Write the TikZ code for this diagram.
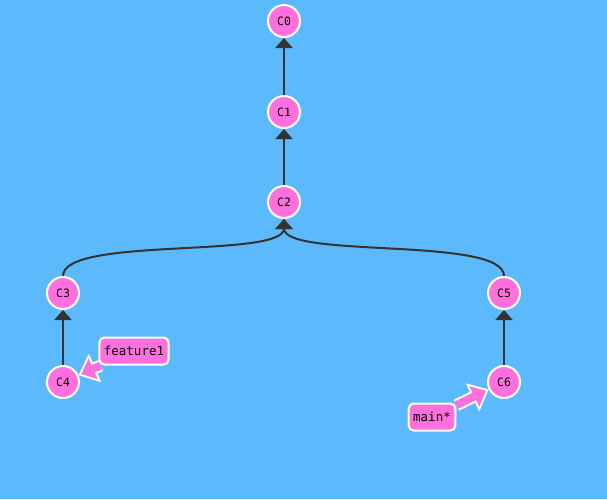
\documentclass[tikz,border=0pt]{standalone}
\usepackage{fontspec}
\setmonofont{DejaVu Sans Mono}
\usetikzlibrary{arrows.meta, backgrounds}
\definecolor{sky}{RGB}{92,185,252}
\definecolor{blush}{RGB}{255,112,222}
\definecolor{ink}{RGB}{51,51,51}

\begin{document}
\begin{tikzpicture}[x=1pt, y=-1pt,
  commit/.style={circle, draw=white, line width=2pt, fill=blush, minimum size=32pt, inner sep=0pt, font=\ttfamily\fontsize{11.5}{13}\selectfont},
  edge/.style={draw=ink, line width=2pt, -{Triangle[length=10pt, width=17pt]}},
  ref/.style={draw=white, line width=2pt, fill=blush, rounded corners=5pt, inner xsep=4.5pt, minimum height=27pt, font=\ttfamily\fontsize{12.5}{14}\selectfont},
  ptrrim/.style={white, line width=12pt, -{Triangle[length=18pt, width=30pt]}},
  ptr/.style={blush, line width=8pt, shorten >=3pt, -{Triangle[length=13pt, width=22pt]}}]
\useasboundingbox (0,0) rectangle (607,499);
\node[commit] (c0) at (284,21) {C0};
\node[commit] (c1) at (284,112) {C1};
\node[commit] (c2) at (284,202) {C2};
\node[commit] (c3) at (63,293) {C3};
\node[commit] (c4) at (63,382) {C4};
\node[commit] (c5) at (504,293) {C5};
\node[commit] (c6) at (504,382) {C6};
\draw[edge] (c1) -- (c0);
\draw[edge] (c2) -- (c1);
\draw[edge] (c3.north) .. controls +(0,-40) and +(0,40) .. (c2.south);
\draw[edge] (c5.north) .. controls +(0,-40) and +(0,40) .. (c2.south);
\draw[edge] (c4) -- (c3);
\draw[edge] (c6) -- (c5);
% branch labels
\node[ref] (feature) at (134,351) {feature1};
\node[ref] (main) at (432,417) {main*};
\begin{scope}[on background layer]
  \fill[sky] (0,0) rectangle (607,499);
  \draw[ptrrim] (feature) -- (c4);
  \draw[ptr] (feature) -- (c4);
  \draw[ptrrim] (main) -- (c6);
  \draw[ptr] (main) -- (c6);
\end{scope}
\end{tikzpicture}
\end{document}
